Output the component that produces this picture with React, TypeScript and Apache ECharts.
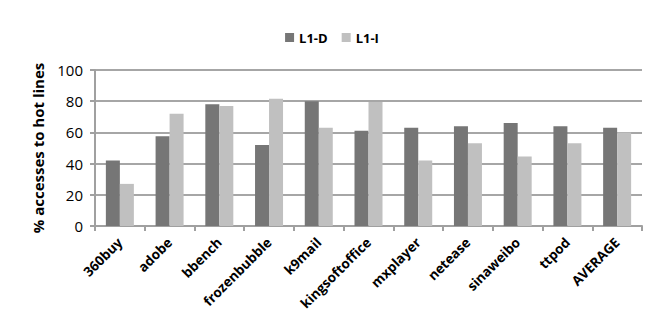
import React, { useEffect, useRef } from "react";
import * as echarts from "echarts";

const categories = ["360buy", "adobe", "bbench", "frozenbubble", "k9mail", "kingsoftoffice", "mxplayer", "netease", "sinaweibo", "ttpod", "AVERAGE"];
const l1d = [42, 57.5, 78, 52, 80, 61, 63, 64, 66, 64, 63];
const l1i = [27, 72, 77, 81.5, 63, 79.5, 42, 53, 44.5, 53, 60];
const yTicks = [0, 20, 40, 60, 80, 100];

export default function App() {
  const ref = useRef<HTMLDivElement>(null);
  useEffect(() => {
    const chart = echarts.init(ref.current!, null, { renderer: "svg" });
    const font = "Open Sans";
    chart.setOption({
      animation: false,
      legend: {
        top: 26,
        left: "center",
        itemWidth: 9,
        itemHeight: 9,
        itemGap: 14,
        icon: "rect",
        textStyle: { fontFamily: font, fontWeight: "bold", fontSize: 13, color: "#000" },
        data: ["L1-D", "L1-I"],
      },
      grid: { left: 95, right: 22, top: 70, bottom: 105 },
      xAxis: {
        type: "category",
        data: categories,
        axisLine: { lineStyle: { color: "#a0a0a0", width: 2 } },
        axisTick: { show: true, length: 5, lineStyle: { color: "#a0a0a0", width: 2 } },
        axisLabel: {
          rotate: 45,
          interval: 0,
          margin: 14,
          fontFamily: font,
          fontWeight: "bold",
          fontSize: 13.5,
          color: "#000",
        },
      },
      yAxis: {
        type: "value",
        min: yTicks[0],
        max: yTicks[yTicks.length - 1],
        interval: 20,
        name: "% accesses to hot lines",
        nameLocation: "middle",
        nameGap: 50,
        nameTextStyle: { fontFamily: font, fontWeight: "bold", fontSize: 15, color: "#000" },
        axisLine: { show: true, lineStyle: { color: "#a0a0a0", width: 2 } },
        axisTick: { show: true, length: 5, lineStyle: { color: "#a0a0a0", width: 2 } },
        splitLine: { lineStyle: { color: "#a6a6a6", width: 2 } },
        axisLabel: { fontFamily: font, fontSize: 15, color: "#000", margin: 12 },
      },
      series: [
        {
          name: "L1-D",
          type: "bar",
          data: l1d,
          barWidth: 14,
          barGap: "0%",
          itemStyle: { color: "#767676" },
        },
        {
          name: "L1-I",
          type: "bar",
          data: l1i,
          barWidth: 14,
          barGap: "0%",
          itemStyle: { color: "#c0c0c0" },
        },
      ],
    });
    return () => chart.dispose();
  }, []);
  return <div ref={ref} style={{ width: 664, height: 331, position: "absolute", left: 0, top: 0 }} />;
}
